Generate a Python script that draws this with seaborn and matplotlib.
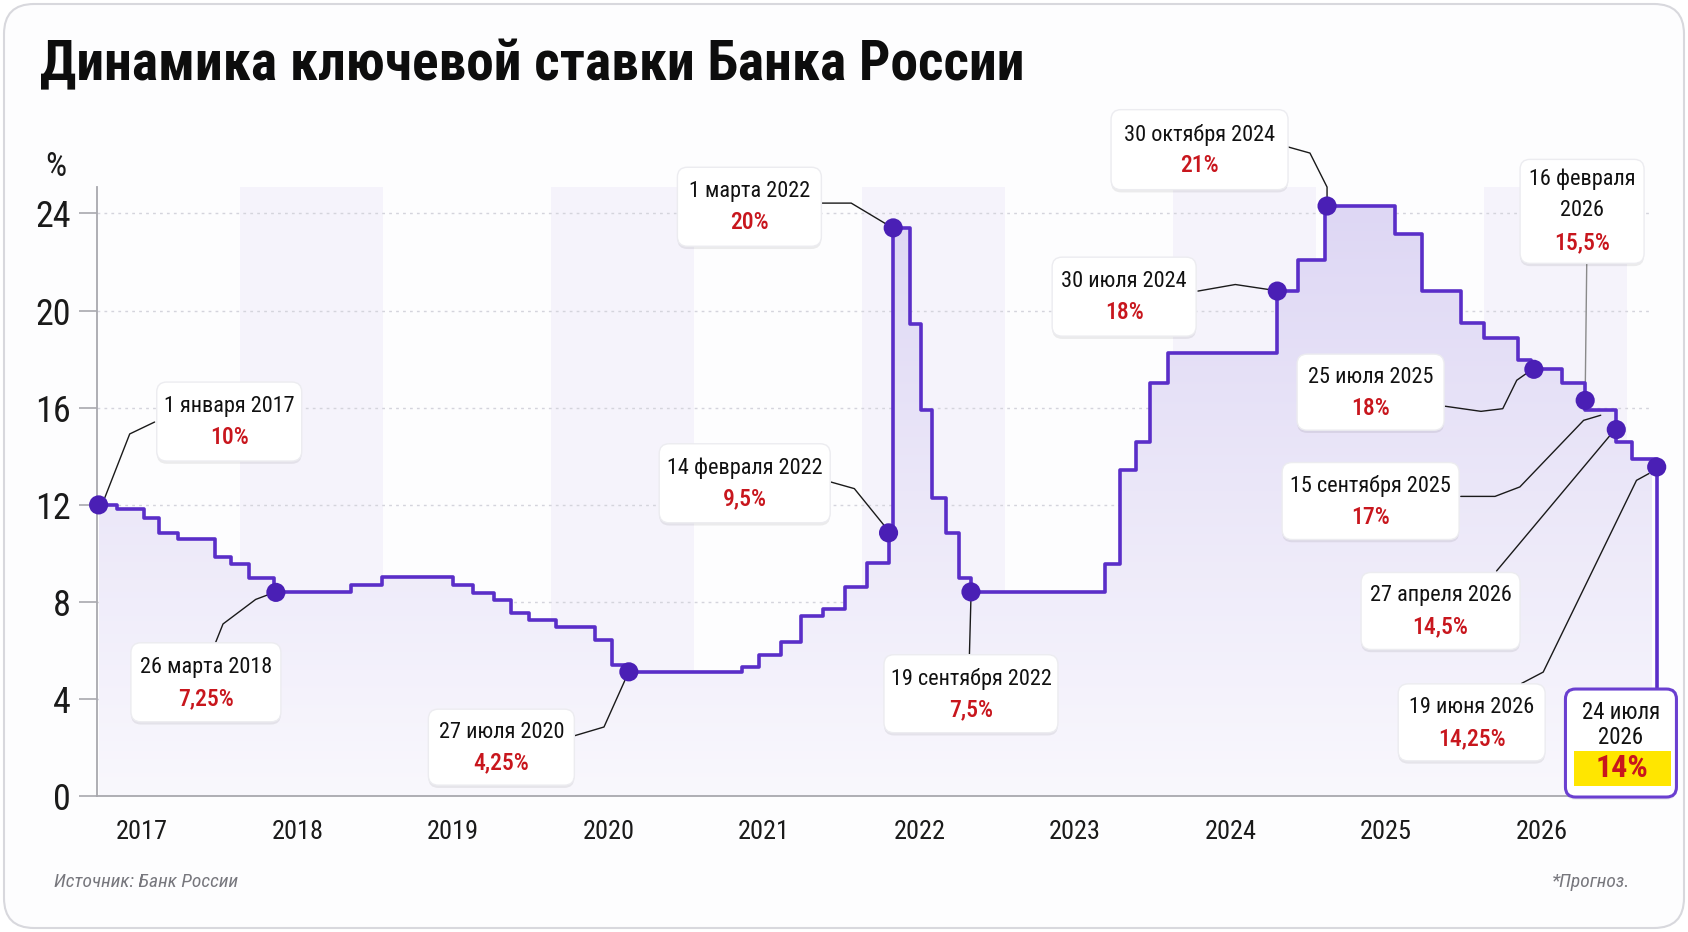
import numpy as np
import matplotlib
matplotlib.use("Agg")
import matplotlib.pyplot as plt
import seaborn as sns
from matplotlib import font_manager
from matplotlib.patches import FancyBboxPatch, Rectangle
from matplotlib.transforms import IdentityTransform
import matplotlib.patheffects as pe

sns.set_theme(style="white")

# pick a narrow font if one is installed
installed = {f.name for f in font_manager.fontManager.ttflist}
narrow = next((f for f in ["Roboto Condensed", "Liberation Sans Narrow", "DejaVu Sans"] if f in installed), "DejaVu Sans")
plt.rcParams['font.family'] = [narrow, 'DejaVu Sans']

# ---- данные (ступеньки ключевой ставки, как на рисунке) ----
rate_dates = [2017.01, 2017.13, 2017.30, 2017.40, 2017.52, 2017.76, 2017.86, 2017.98, 2018.14,
              2018.63, 2018.83, 2019.29, 2019.42, 2019.55, 2019.66, 2019.78, 2019.95, 2020.20,
              2020.31, 2020.42, 2021.15, 2021.26, 2021.40, 2021.53, 2021.67, 2021.81, 2021.95,
              2022.09, 2022.12, 2022.23, 2022.30, 2022.37, 2022.46, 2022.54, 2022.62, 2023.48,
              2023.58, 2023.68, 2023.77, 2023.89, 2024.59, 2024.72, 2024.90, 2025.35, 2025.52,
              2025.77, 2025.92, 2026.14, 2026.22, 2026.42, 2026.57, 2026.77, 2026.87, 2027.03]
rate_values = [12.0, 11.82, 11.48, 10.86, 10.58, 9.87, 9.56, 9.0, 8.4,
               8.69, 9.02, 8.69, 8.38, 8.07, 7.55, 7.27, 6.97, 6.43,
               5.43, 5.13, 5.34, 5.84, 6.36, 7.41, 7.73, 8.64, 9.6,
               10.85, 23.4, 19.45, 15.89, 12.3, 10.86, 9.0, 8.42, 9.57,
               13.44, 14.6, 17.02, 18.24, 20.8, 22.08, 24.3, 23.14, 20.82,
               19.5, 18.86, 17.96, 17.58, 17.0, 15.89, 14.6, 13.9, 13.56]

dot_dates = [2017.01, 2018.15, 2020.42, 2022.09, 2022.12, 2022.62, 2024.59, 2024.91,
             2026.24, 2026.57, 2026.77, 2027.03]
dot_values = [12.0, 8.4, 5.13, 10.85, 23.4, 8.42, 20.8, 24.3, 17.58, 16.3, 15.1, 13.56]

year_labels = [2017, 2018, 2019, 2020, 2021, 2022, 2023, 2024, 2025, 2026]
y_ticks = [0, 4, 8, 12, 16, 20, 24]
band_years = [2018, 2020, 2022, 2024, 2026]

callout_dates = ["1 января 2017", "26 марта 2018", "27 июля 2020", "14 февраля 2022",
                 "1 марта 2022", "19 сентября 2022", "30 октября 2024", "30 июля 2024",
                 "16 февраля\n2026", "25 июля 2025", "15 сентября 2025", "27 апреля 2026",
                 "19 июня 2026"]
callout_rates = ["10%", "7,25%", "4,25%", "9,5%", "20%", "7,5%", "21%", "18%",
                 "15,5%", "18%", "17%", "14,5%", "14,25%"]
final_date = "24 июля\n2026"
final_rate = "14%"

# ---- раскладка выносок ----
callout_x = [2017.85, 2017.70, 2019.60, 2021.165, 2021.195, 2022.62, 2024.09, 2023.605,
             2026.55, 2025.19, 2025.19, 2025.64, 2025.84]
callout_y = [15.43, 4.70, 2.03, 12.89, 24.27, 4.23, 26.62, 20.57,
             24.08, 16.64, 12.16, 7.635, 3.05]
callout_w = [145, 150, 146, 171, 144, 174, 177, 144, 124, 147, 177, 159, 147]
callout_h = [79, 79, 76, 79, 79, 78, 80, 79, 104, 76, 77, 77, 77]
leaders = [
    [(2017.37, 15.41), (2017.21, 14.92), (2017.05, 12.3)],
    [(2017.76, 6.3), (2017.81, 7.1), (2018.02, 8.11), (2018.12, 8.35)],
    [(2020.06, 2.48), (2020.26, 2.86), (2020.41, 5.0)],
    [(2021.72, 12.94), (2021.87, 12.67), (2022.07, 11.09)],
    [(2021.66, 24.42), (2021.85, 24.42), (2022.09, 23.5)],
    [(2022.61, 5.82), (2022.62, 8.2)],
    [(2024.66, 26.73), (2024.80, 26.48), (2024.91, 25.08), (2024.91, 24.5)],
    [(2024.08, 20.80), (2024.32, 21.07), (2024.57, 20.83)],
    [(2026.58, 21.93), (2026.57, 16.5)],
    [(2025.67, 16.06), (2025.90, 15.85), (2026.04, 15.96), (2026.13, 17.13), (2026.19, 17.40)],
    [(2025.77, 12.35), (2025.99, 12.35), (2026.15, 12.74), (2026.56, 15.48), (2026.67, 15.69)],
    [(2026.00, 9.28), (2026.73, 14.86)],
    [(2026.16, 4.65), (2026.30, 5.12), (2026.90, 13.01), (2026.98, 13.29)],
]

LINE = '#5a2ec8'
DOT = '#4a1fb5'
RED = '#c8161d'

fig = plt.figure(figsize=(16.88, 9.32), dpi=100)
fig.patch.set_facecolor('white')
card = FancyBboxPatch((4, 4), 1680, 924, boxstyle='round,pad=0,rounding_size=30',
                      transform=IdentityTransform(), fc='#fdfdfe', ec='#d8d8dd', lw=1.5, zorder=-10)
fig.add_artist(card)

ax = fig.add_axes([0.0575, 0.1454, 0.9212, 0.6544])
ax.set_facecolor('none')
ax.set_xlim(2017, 2027)
ax.set_ylim(0, 25.1)

# полосы чётных лет
for yr in band_years:
    ax.axvspan(yr - 0.08, yr + 0.84, color='#f5f3fb', zorder=0, lw=0)

# пунктирная сетка
for v in y_ticks[1:]:
    ax.axhline(v, color='#d4d4dc', lw=1.0, ls=(0, (2, 3)), zorder=1)

# заливка с градиентом под линией
xs = np.array(rate_dates)
ys = np.array(rate_values)
fill = ax.fill_between(xs, ys, 0, step='post', color='none', lw=0)
grad = np.linspace(0, 1, 256).reshape(-1, 1)
cmap = matplotlib.colors.LinearSegmentedColormap.from_list('g', ['#f9f8fd', '#ddd6f4'])
im = ax.imshow(grad, extent=[2017, 2027.1, 0, 25.1], origin='lower', aspect='auto',
               cmap=cmap, zorder=1.5)
im.set_clip_path(fill.get_paths()[0], transform=ax.transData)

sns.lineplot(x=rate_dates, y=rate_values, drawstyle='steps-post', color=LINE, lw=2.6,
             ax=ax, zorder=3, clip_on=False)
sns.scatterplot(x=dot_dates, y=dot_values, color=DOT, s=190, edgecolor='none', ax=ax,
                zorder=5, clip_on=False)

for pts in leaders:
    px, py = zip(*pts)
    c = '#8a8a8a' if len(pts) == 2 and abs(px[0] - px[1]) < 0.02 and py[0] > 20 else '#1a1a1a'
    ax.plot(px, py, color=c, lw=1.0, zorder=2.5, clip_on=False)
# линия к итоговой выноске
ax.plot([dot_dates[-1], dot_dates[-1]], [dot_values[-1], 4.4], color=LINE, lw=2.6,
        zorder=3, clip_on=False)

# оси
sns.despine(ax=ax, top=True, right=True)
ax.spines['left'].set_color('#a8a8ae')
ax.spines['bottom'].set_color('#a8a8ae')
ax.spines['left'].set_linewidth(1.3)
ax.spines['bottom'].set_linewidth(1.3)
ax.spines['left'].set_zorder(2)
ax.set_yticks(y_ticks)
ax.set_yticklabels([str(v) for v in y_ticks], fontsize=26, color='#1a1a1a')
ax.tick_params(axis='y', length=13, width=1.2, color='#a8a8ae', pad=6, left=True)
ax.set_xticks([y + 0.29 for y in year_labels])
ax.set_xticklabels([str(y) for y in year_labels], fontsize=19, color='#1a1a1a')
ax.tick_params(axis='x', length=0, pad=17)
ax.grid(False)
fig.text(0.033, 0.821, '%', fontsize=24, color='#1a1a1a', ha='center', va='center')

fig.canvas.draw()
shadow = [pe.withSimplePatchShadow(offset=(0, -2), shadow_rgbFace='#000000', alpha=0.07)]

for i, (d, r) in enumerate(zip(callout_dates, callout_rates)):
    cx, cy = ax.transData.transform((callout_x[i], callout_y[i]))
    w, h = callout_w[i], callout_h[i]
    box = FancyBboxPatch((cx - w / 2, cy - h / 2), w, h, boxstyle='round,pad=0,rounding_size=10',
                         transform=IdentityTransform(), fc='white', ec='#ececf0', lw=1.0,
                         zorder=6, path_effects=shadow)
    fig.add_artist(box)
    if '\n' in d:
        l1, l2 = d.split('\n')
        fig.text(cx, cy + 32, l1, transform=IdentityTransform(), ha='center', va='center',
                 fontsize=16, color='#111111', zorder=7)
        fig.text(cx, cy + 1, l2, transform=IdentityTransform(), ha='center', va='center',
                 fontsize=16, color='#111111', zorder=7)
        fig.text(cx, cy - 31, r, transform=IdentityTransform(), ha='center', va='center',
                 fontsize=17, fontweight='medium', color=RED, zorder=7)
    else:
        fig.text(cx, cy + 15, d, transform=IdentityTransform(), ha='center', va='center',
                 fontsize=16, color='#111111', zorder=7)
        fig.text(cx, cy - 16, r, transform=IdentityTransform(), ha='center', va='center',
                 fontsize=17, fontweight='medium', color=RED, zorder=7)

# итоговая выноска (прогноз)
cx, cy = ax.transData.transform((2026.80, 2.2))
w, h = 111, 108
fig.add_artist(FancyBboxPatch((cx - w / 2, cy - h / 2), w, h, boxstyle='round,pad=0,rounding_size=10',
                              transform=IdentityTransform(), fc='white', ec='#6a3fd0', lw=2.2,
                              zorder=6, path_effects=shadow))
fig.add_artist(Rectangle((cx - 47, cy - 43), 97, 35, transform=IdentityTransform(),
                         fc='#ffe600', ec='none', zorder=6.5))
l1, l2 = final_date.split('\n')
fig.text(cx, cy + 31, l1, transform=IdentityTransform(), ha='center', va='center',
         fontsize=16.5, color='#111111', zorder=7)
fig.text(cx, cy + 6, l2, transform=IdentityTransform(), ha='center', va='center',
         fontsize=16.5, color='#111111', zorder=7)
fig.text(cx + 1, cy - 25, final_rate, transform=IdentityTransform(), ha='center', va='center',
         fontsize=23, fontweight='bold', color=RED, zorder=7)

fig.text(0.0237, 0.930, 'Динамика ключевой ставки Банка России', fontsize=40,
         fontweight='bold', color='#0d0d0d', ha='left', va='center')
fig.text(0.032, 0.054, 'Источник: Банк России', fontsize=14, style='italic',
         color='#77777d', ha='left', va='center')
fig.text(0.966, 0.054, '*Прогноз.', fontsize=14, style='italic',
         color='#77777d', ha='right', va='center')

fig.savefig('out.png', dpi=100)
